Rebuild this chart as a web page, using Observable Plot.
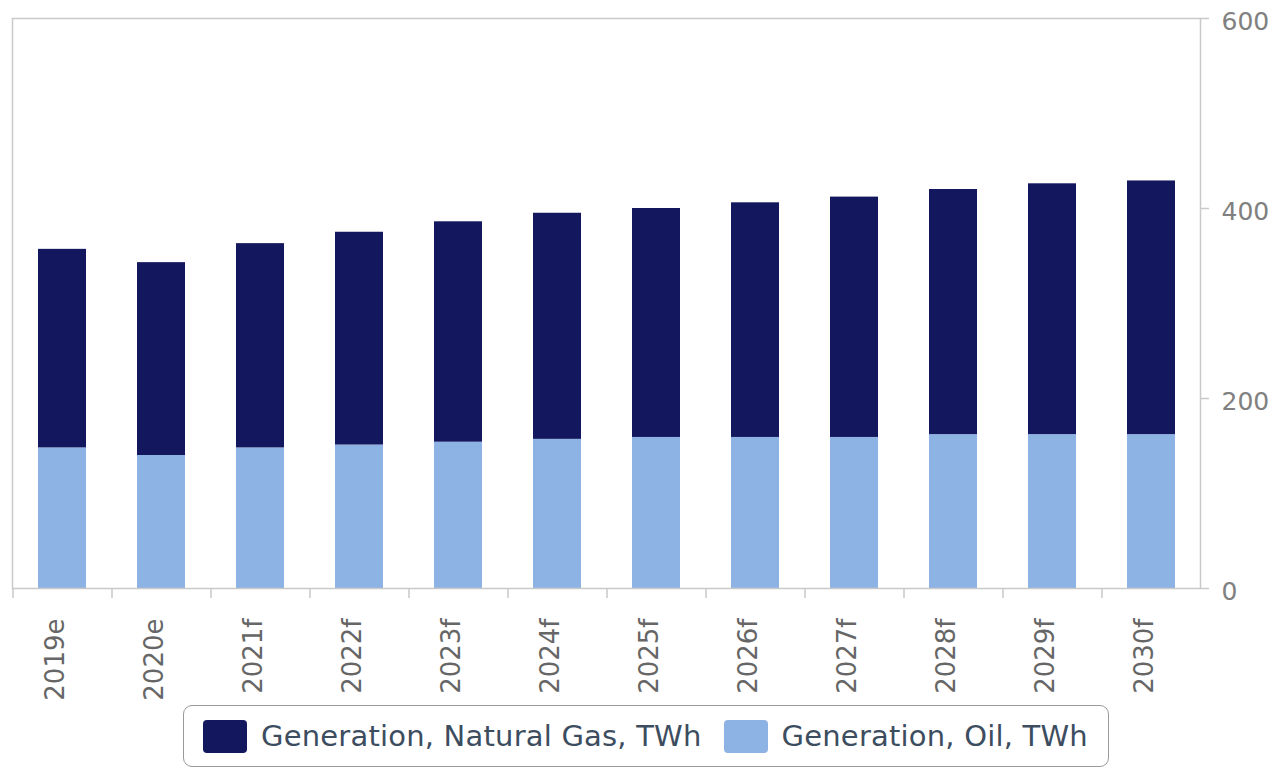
<!DOCTYPE html>
<html>
<head>
<meta charset="utf-8">
<script src="https://cdn.jsdelivr.net/npm/d3@7"></script>
<script src="https://cdn.jsdelivr.net/npm/@observablehq/plot@0.6"></script>
<style>
  html, body { margin: 0; padding: 0; background: #fff; }
  #wrap { position: relative; width: 1283px; height: 771px; font-family: "DejaVu Sans", sans-serif; }
  #legend {
    position: absolute; left: 183px; top: 705px; width: 926px; height: 62px;
    border: 1.5px solid #9a9a9a; border-radius: 9px; box-sizing: border-box;
    display: flex; align-items: center; font-size: 29px; color: #3d4d60;
    letter-spacing: 0.2px;
  }
  .item { display: flex; align-items: center; }
  .sw { width: 44px; height: 33px; border-radius: 4px; margin-right: 14px; }
</style>
</head>
<body>
<div id="wrap">
  <div id="chart"></div>
  <div id="legend"></div>
</div>
<script>
const categories = ["2019e","2020e","2021f","2022f","2023f","2024f","2025f","2026f","2027f","2028f","2029f","2030f"];
const oil = [148, 140, 148, 151, 154, 157, 159, 159, 159, 162, 162, 162];
const gas = [209, 203, 215, 224, 232, 238, 241, 247, 253, 258, 264, 267];
const seriesNames = ["Generation, Natural Gas, TWh", "Generation, Oil, TWh"];
const seriesColors = ["#13175e", "#8db3e4"];
const yTicks = [0, 200, 400, 600];

const rows = [];
categories.forEach((c, i) => {
  rows.push({cat: c, series: seriesNames[1], value: oil[i], order: 0});
  rows.push({cat: c, series: seriesNames[0], value: gas[i], order: 1});
});

const plot = Plot.plot({
  width: 1283,
  height: 700,
  marginTop: 18,
  marginBottom: 112,
  marginLeft: 12,
  marginRight: 83,
  style: {fontFamily: "DejaVu Sans, sans-serif", background: "#fff"},
  x: {domain: categories, paddingInner: 0.52, paddingOuter: 0.26, label: null},
  y: {domain: [0, 600], label: null},
  color: {domain: seriesNames, range: seriesColors},
  marks: [
    Plot.barY(rows, Plot.stackY({x: "cat", y: "value", fill: "series", order: "order"})),
    Plot.frame({stroke: "#c9c9c9", strokeWidth: 1.5}),
    Plot.ruleX(categories, {x: d => d, dx: -49.5, y1: 0, y2: 0, insetBottom: -10, stroke: "#c9c9c9", strokeWidth: 1.5}),
    Plot.axisY({anchor: "right", ticks: yTicks, tickSize: 8, text: null, stroke: "#c9c9c9", strokeWidth: 1.5, label: null}),
    Plot.axisY({anchor: "right", ticks: yTicks, tickSize: 0, tickPadding: 21, dy: 3, fontSize: 25, color: "#808080", label: null}),
    Plot.axisX({anchor: "bottom", tickSize: 0, tickPadding: 30, tickRotate: -90, dx: -7, fontSize: 26, color: "#666", label: null, style: {letterSpacing: "0.5px"}})
  ]
});
document.getElementById("chart").appendChild(plot);

const legend = document.getElementById("legend");
seriesNames.forEach((name, i) => {
  const it = document.createElement("div");
  it.className = "item";
  it.style.marginLeft = i === 0 ? "19px" : "22px";
  const sw = document.createElement("div");
  sw.className = "sw";
  sw.style.background = seriesColors[i];
  const t = document.createElement("span");
  t.textContent = name;
  it.appendChild(sw); it.appendChild(t);
  legend.appendChild(it);
});
</script>
</body>
</html>
